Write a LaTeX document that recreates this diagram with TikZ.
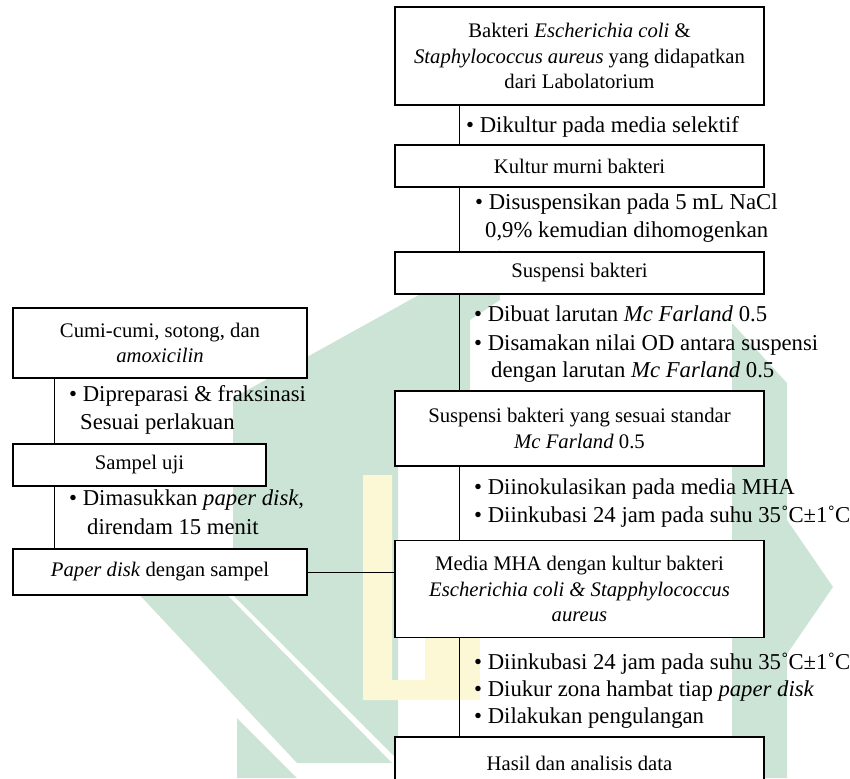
\documentclass[tikz,border=0pt]{standalone}
\usepackage{fontspec}
\setmainfont{Liberation Serif}
\definecolor{wmgreen}{RGB}{204,228,213}
\definecolor{wmyellow}{RGB}{252,248,214}
\newcommand{\boxfont}{\fontsize{20.7}{25.7}\selectfont}
\newcommand{\bulfont}{\fontsize{22.7}{28}\selectfont}
\newcommand{\bul}{\textbullet\ }
\tikzset{
  box/.style={draw=black, line width=1.2pt, fill=white, inner sep=0pt, align=center, font=\boxfont, minimum width=#1},
  conn/.style={draw=black, line width=0.8pt},
  btxt/.style={inner sep=0pt, anchor=base west, font=\bulfont},
}
\begin{document}
\begin{tikzpicture}[x=1pt, y=-1pt]
\useasboundingbox (0,0) rectangle (850,778);
\clip (0,0) rectangle (850,778);
% watermark
\fill[wmgreen] (233,398) -- (500,250) -- (500,300) -- (470,320) -- (470,391) -- (398,391) -- (398,760) -- (233,595) -- cycle;
\fill[wmgreen] (105,558) -- (191,558) -- (392,763) -- (297,763) -- cycle;
\fill[wmgreen] (237,718) -- (237,778) -- (297,778) -- cycle;
\fill[wmgreen] (732,323) -- (787,383) -- (787,520) -- (833,587) -- (787,654) -- (787,778) -- (732,778) -- cycle;
\fill[wmyellow] (363,475) -- (392,475) -- (392,680) -- (425,680) -- (425,540) -- (480,540) -- (480,700) -- (363,700) -- cycle;
% boxes
\node[box=369pt, minimum height=98pt] (b1) at (579.5,56) {Bakteri \textit{Escherichia coli} \&\\\textit{Staphylococcus aureus} yang didapatkan\\dari Labolatorium};
\node[box=369pt, minimum height=42pt] (b2) at (579.5,166) {Kultur murni bakteri};
\node[box=369pt, minimum height=42pt] (b3) at (579.5,273) {Suspensi bakteri};
\node[box=369pt, minimum height=75pt] (b4) at (579.5,428.5) {Suspensi bakteri yang sesuai standar\\\textit{Mc Farland} 0.5};
\node[box=369pt, minimum height=97pt] (b5) at (579.5,589) {Media MHA dengan kultur bakteri\\\textit{Escherichia coli \& Stapphylococcus}\\\textit{aureus}};
\node[box=369pt, minimum height=53pt] (b6) at (579.5,763.5) {Hasil dan analisis data};
\node[box=294pt, minimum height=70pt] (l1) at (160,343) {Cumi-cumi, sotong, dan\\\textit{amoxicilin}};
\node[box=253pt, minimum height=42pt] (l2) at (139.5,465) {Sampel uji};
\node[box=294pt, minimum height=46pt] (l3) at (160,572) {\textit{Paper disk} dengan sampel};
% spines
\coordinate (rs) at (459,0);
\coordinate (ls) at (54,0);
\draw[conn] (b1.south -| rs) -- (b2.north -| rs);
\draw[conn] (b2.south -| rs) -- (b3.north -| rs);
\draw[conn] (b3.south -| rs) -- (b4.north -| rs);
\draw[conn] (b4.south -| rs) -- (b5.north -| rs);
\draw[conn] (b5.south -| rs) -- (b6.north -| rs);
\draw[conn] (l1.south -| ls) -- (l2.north -| ls);
\draw[conn] (l2.south -| ls) -- (l3.north -| ls);
\draw[conn] (l3.east) -- (l3.east -| b5.west);
% bullet texts right
\node[btxt] (r1) at (466,133) {\bul Dikultur pada media selektif};
\node[btxt] (r2) at (475,209) {\bul Disuspensikan pada 5 mL NaCl};
\node[btxt] (r3) at (485,237) {0,9\% kemudian dihomogenkan};
\node[btxt] (r4) at (474,321) {\bul Dibuat larutan \textit{Mc Farland} 0.5};
\node[btxt] (r5) at (474,350) {\bul Disamakan nilai OD antara suspensi};
\node[btxt] (r6) at (491,377) {dengan larutan \textit{Mc Farland} 0.5};
\node[btxt] (r7) at (474,494) {\bul Diinokulasikan pada media MHA};
\node[btxt] (r8) at (474,522) {\bul Diinkubasi 24 jam pada suhu 35˚C±1˚C};
\node[btxt] (r9) at (474,669) {\bul Diinkubasi 24 jam pada suhu 35˚C±1˚C};
\node[btxt] (r10) at (474,696) {\bul Diukur zona hambat tiap \textit{paper disk}};
\node[btxt] (r11) at (474,723) {\bul Dilakukan pengulangan};
% bullet texts left
\node[btxt] (p1) at (69,401) {\bul Dipreparasi \& fraksinasi};
\node[btxt] (p2) at (80,429) {Sesuai perlakuan};
\node[btxt] (p3) at (69,505) {\bul Dimasukkan \textit{paper disk},};
\node[btxt] (p4) at (87,534) {direndam 15 menit};
\end{tikzpicture}
\end{document}
